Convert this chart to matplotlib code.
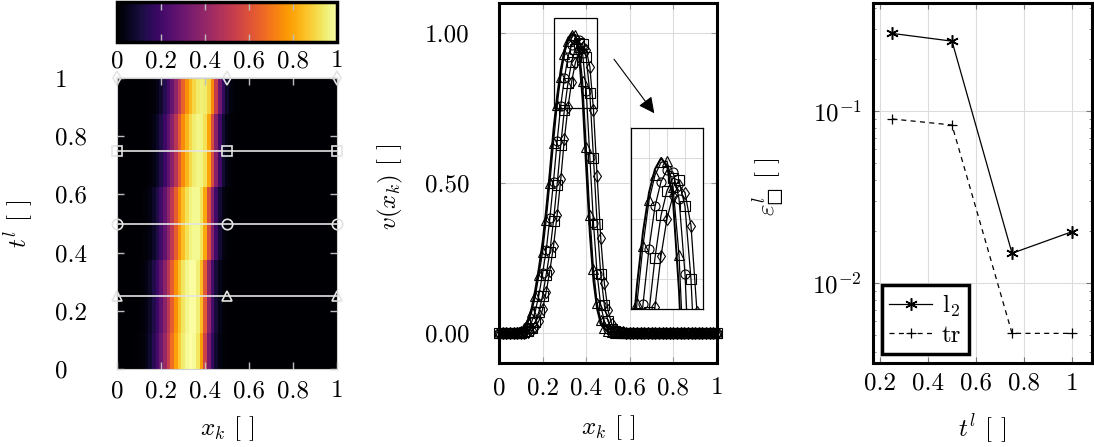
import numpy as np
import matplotlib
matplotlib.use('Agg')
import matplotlib.pyplot as plt
from matplotlib.patches import Rectangle

plt.rcParams['font.family'] = ['cmr10']
plt.rcParams['mathtext.fontset'] = 'cm'
plt.rcParams['axes.formatter.use_mathtext'] = True
plt.rcParams['font.size'] = 18

# spatial grid and snapshot times
x_k = np.linspace(0, 1, 61)
t_snap = [0.0, 0.25, 0.5, 0.75, 1.0]

# v(x_k) at each snapshot
v_t000 = [0, 0, 0, 0, 0, 0.004, 0.010, 0.020, 0.043, 0.083,
          0.145, 0.218, 0.303, 0.413, 0.538, 0.678, 0.790, 0.878, 0.943, 0.982,
          1.000, 0.988, 0.930, 0.780, 0.550, 0.331, 0.174, 0.080, 0.032, 0.013,
          0.005, 0.002, 0, 0, 0, 0, 0, 0, 0, 0,
          0, 0, 0, 0, 0, 0, 0, 0, 0, 0,
          0, 0, 0, 0, 0, 0, 0, 0, 0, 0,
          0]
v_t025 = [0, 0, 0, 0, 0, 0.003, 0.007, 0.016, 0.036, 0.070,
          0.123, 0.195, 0.270, 0.378, 0.500, 0.635, 0.760, 0.855, 0.930, 0.972,
          0.993, 0.995, 0.953, 0.840, 0.620, 0.393, 0.213, 0.100, 0.043, 0.017,
          0.006, 0.003, 0.001, 0, 0, 0, 0, 0, 0, 0,
          0, 0, 0, 0, 0, 0, 0, 0, 0, 0,
          0, 0, 0, 0, 0, 0, 0, 0, 0, 0,
          0]
v_t050 = [0, 0, 0, 0, 0, 0.001, 0.003, 0.008, 0.017, 0.037,
          0.073, 0.128, 0.199, 0.277, 0.383, 0.505, 0.639, 0.758, 0.850, 0.920,
          0.961, 0.980, 0.977, 0.933, 0.808, 0.587, 0.366, 0.197, 0.092, 0.038,
          0.015, 0.006, 0.002, 0.001, 0, 0, 0, 0, 0, 0,
          0, 0, 0, 0, 0, 0, 0, 0, 0, 0,
          0, 0, 0, 0, 0, 0, 0, 0, 0, 0,
          0]
v_t075 = [0, 0, 0, 0, 0, 0, 0.001, 0.003, 0.007, 0.016,
          0.037, 0.071, 0.125, 0.195, 0.271, 0.375, 0.495, 0.627, 0.745, 0.835,
          0.905, 0.946, 0.967, 0.963, 0.920, 0.799, 0.584, 0.365, 0.196, 0.092,
          0.039, 0.015, 0.006, 0.002, 0.001, 0, 0, 0, 0, 0,
          0, 0, 0, 0, 0, 0, 0, 0, 0, 0,
          0, 0, 0, 0, 0, 0, 0, 0, 0, 0,
          0]
v_t100 = [0, 0, 0, 0, 0, 0, 0, 0.001, 0.004, 0.009,
          0.019, 0.041, 0.079, 0.138, 0.208, 0.289, 0.394, 0.513, 0.647, 0.754,
          0.838, 0.900, 0.938, 0.955, 0.943, 0.888, 0.745, 0.525, 0.316, 0.166,
          0.076, 0.031, 0.012, 0.005, 0.002, 0, 0, 0, 0, 0,
          0, 0, 0, 0, 0, 0, 0, 0, 0, 0,
          0, 0, 0, 0, 0, 0, 0, 0, 0, 0,
          0]

# marker guide on the heatmap
guide_x = [0.0, 0.5, 1.0]
marks = ['^', 'o', 's', 'd']

# error per snapshot
t_err = [0.25, 0.5, 0.75, 1.0]
err_l2 = [0.283, 0.255, 0.0149, 0.0199]
err_tr = [0.090, 0.083, 0.0051, 0.0051]

unit_ticks = [0, 0.2, 0.4, 0.6, 0.8, 1.0]
unit_labels = ['0', '0.2', '0.4', '0.6', '0.8', '1']

W, H = 1094, 447


def box(x0, y0, x1, y1):
    return [x0 / W, 1 - y1 / H, (x1 - x0) / W, (y1 - y0) / H]


fig = plt.figure(figsize=(W / 100, H / 100), dpi=100)
ax_map = fig.add_axes(box(117, 78, 337, 369))
ax_cb = fig.add_axes(box(117, 2, 337, 42))
ax_v = fig.add_axes(box(499, 3, 717, 363))
ax_in = fig.add_axes(box(631, 128, 703, 309))
ax_e = fig.add_axes(box(873, 3, 1092, 363))

# --- heatmap ---
field = np.array([v_t000, v_t025, v_t050, v_t075, v_t100])
mesh = ax_map.pcolormesh(x_k, t_snap, field, cmap='inferno', vmin=0, vmax=1,
                         shading='nearest')
for t, m in zip(t_snap[1:], marks):
    ax_map.plot(guide_x, [t] * len(guide_x), color='#e4e4e4', lw=1.2, marker=m,
                ms=7.5, mfc='none', mec='#e4e4e4', mew=1.2, clip_on=False)
ax_map.set_xlim(0, 1)
ax_map.set_ylim(0, 1)
ax_map.set_xticks(unit_ticks)
ax_map.set_xticklabels(unit_labels)
ax_map.set_yticks(unit_ticks)
ax_map.set_yticklabels(unit_labels, ha='left')
ax_map.tick_params(direction='in', length=5, width=1, color='#bdbdbd',
                   top=True, right=True)
ax_map.tick_params(axis='x', pad=8)
ax_map.tick_params(axis='y', pad=45)
for s in ax_map.spines.values():
    s.set_color('#d0d0d0')
    s.set_linewidth(0.8)
ax_map.set_xlabel(r'$x_k$ [ ]')
ax_map.set_ylabel(r'$t^l$ [ ]')
ax_map.xaxis.set_label_coords(0.5, -0.155)
ax_map.yaxis.set_label_coords(-0.37, 0.5)

cb = fig.colorbar(mesh, cax=ax_cb, orientation='horizontal', ticks=unit_ticks)
cb.outline.set_linewidth(2.5)
ax_cb.set_xticklabels(unit_labels)
ax_cb.tick_params(axis='x', direction='in', length=6, width=1, color='#bdbdbd',
                  top=True, bottom=True, pad=6)

# --- profiles ---
curves = [v_t025, v_t050, v_t075, v_t100]
for ax, clip in [(ax_v, False), (ax_in, True)]:
    ax.plot(x_k, v_t000, color='k', lw=1.4, clip_on=clip)
    for v, m in zip(curves, marks):
        ax.plot(x_k, v, color='k', lw=0.9, marker=m, ms=6.5, mfc='none',
                mew=0.8, clip_on=clip)

ax_v.set_xlim(0, 1)
ax_v.set_ylim(-0.1, 1.1)
ax_v.set_xticks(unit_ticks)
ax_v.set_xticklabels(unit_labels)
ax_v.set_yticks([0, 0.5, 1.0])
ax_v.set_yticklabels(['0.00', '0.50', '1.00'])
ax_v.grid(True, color='#dcdcdc', lw=0.8)
ax_v.set_axisbelow(True)
ax_v.tick_params(direction='in', length=4, color='#999999', top=True, right=True)
ax_v.tick_params(axis='x', pad=10)
ax_v.tick_params(axis='y', pad=21)
for s in ax_v.spines.values():
    s.set_linewidth(2.2)
ax_v.set_xlabel(r'$x_k$ [ ]')
ax_v.set_ylabel(r'$v(x_k)$ [ ]')
ax_v.xaxis.set_label_coords(0.5, -0.14)
ax_v.yaxis.set_label_coords(-0.43, 0.49)

ax_v.add_patch(Rectangle((0.25, 0.75), 0.2, 0.3, fill=False, ec='k', lw=0.9, zorder=5))
ax_v.annotate('', xy=(0.72, 0.725), xytext=(0.52, 0.92),
              arrowprops=dict(arrowstyle='-|>', color='k', lw=0.8, mutation_scale=24))

ax_in.set_xlim(0.25, 0.45)
ax_in.set_ylim(0.75, 1.05)
ax_in.set_xticks([0.3, 0.35, 0.4])
ax_in.set_yticks([0.8, 0.9, 1.0])
ax_in.grid(True, color='#dcdcdc', lw=0.8)
ax_in.set_axisbelow(True)
ax_in.tick_params(length=0, labelbottom=False, labelleft=False)
for s in ax_in.spines.values():
    s.set_linewidth(0.9)

# --- errors ---
ax_e.semilogy(t_err, err_l2, color='k', ls='-', lw=0.9, marker=(6, 2, 0), ms=9,
              mew=1.1, label=r'l$_2$')
ax_e.semilogy(t_err, err_tr, color='k', ls=(0, (4, 3.5)), lw=0.9, marker='+', ms=7,
              mew=0.9, label='tr')
ax_e.set_xlim(0.171, 1.083)
ax_e.set_ylim(0.00343, 0.425)
ax_e.set_xticks([0.2, 0.4, 0.6, 0.8, 1.0])
ax_e.set_xticklabels(['0.2', '0.4', '0.6', '0.8', '1'])
ax_e.grid(True, which='major', color='#dcdcdc', lw=0.8)
ax_e.set_axisbelow(True)
ax_e.tick_params(which='both', direction='in', color='#777777', top=True, right=True)
ax_e.tick_params(which='major', length=4)
ax_e.tick_params(which='minor', length=2.5)
ax_e.tick_params(axis='x', pad=7)
ax_e.tick_params(axis='y', pad=8)
for s in ax_e.spines.values():
    s.set_linewidth(2.2)
ax_e.set_xlabel(r'$t^l$ [ ]')
ax_e.set_ylabel('$\\varepsilon^l_{\u25a1}$ [ ]')
ax_e.xaxis.set_label_coords(0.5, -0.138)
ax_e.yaxis.set_label_coords(-0.39, 0.49)
leg = ax_e.legend(loc='lower left', fancybox=False, edgecolor='k', framealpha=1,
                  handlelength=1.7, borderaxespad=0.35, borderpad=0.3,
                  labelspacing=0.2, handletextpad=0.4)
leg.get_frame().set_linewidth(2.5)

fig.savefig('out.png', dpi=100)
